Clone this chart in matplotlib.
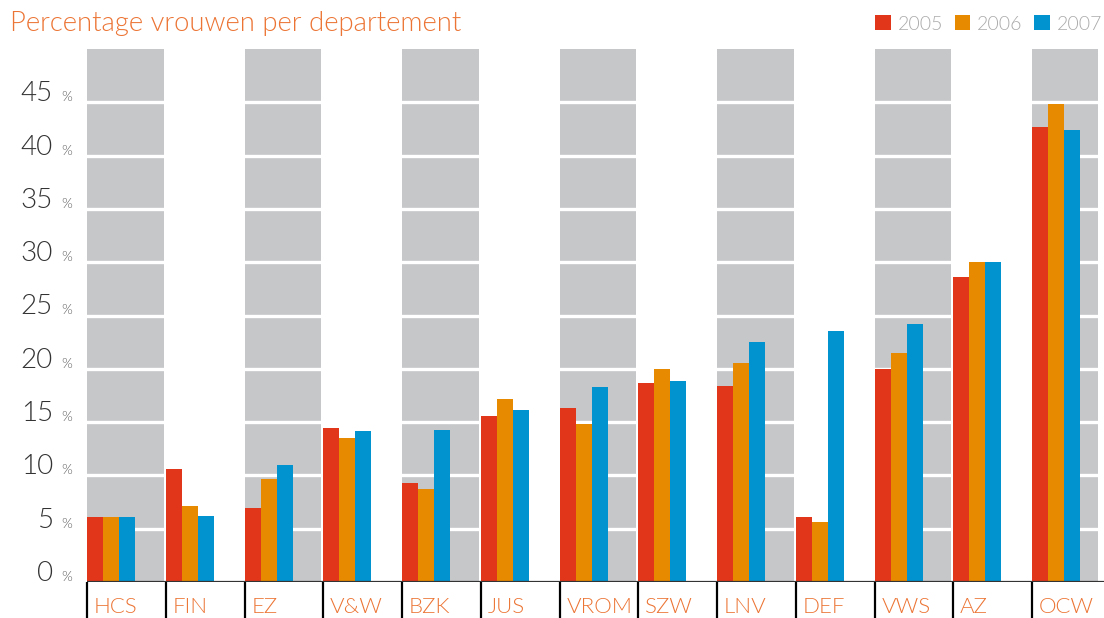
import numpy as np
import matplotlib
matplotlib.use('Agg')
from matplotlib import pyplot as plt

plt.rcParams['font.family'] = ['Lato', 'DejaVu Sans']

departments = ['HCS', 'FIN', 'EZ', 'V&W', 'BZK', 'JUS', 'VROM',
               'SZW', 'LNV', 'DEF', 'VWS', 'AZ', 'OCW']
years = ['2005', '2006', '2007']
pct_2005 = [6.1, 10.6, 6.9, 14.4, 9.3, 15.6, 16.3, 18.7, 18.4, 6.1, 20.0, 28.6, 42.7]
pct_2006 = [6.1, 7.1, 9.7, 13.5, 8.7, 17.2, 14.8, 20.0, 20.5, 5.6, 21.5, 30.0, 44.8]
pct_2007 = [6.1, 6.2, 11.0, 14.2, 14.3, 16.1, 18.3, 18.9, 22.5, 23.5, 24.2, 30.0, 42.4]
y_ticks = [0, 5, 10, 15, 20, 25, 30, 35, 40, 45]

colors = ['#e2361a', '#e88a00', '#0093cf']
orange_text = '#ec7434'
panel_gray = '#c6c7c9'
fw = 300

n = len(departments)
slot_px = 78.75

fig = plt.figure(figsize=(11.04, 6.18), dpi=100)
# the plot area runs a little past the right edge of the picture
ax = fig.add_axes([87 / 1104, 1 - 582 / 618, n * slot_px / 1104, (582 - 49) / 618])
ax.set_xlim(0, n)
ax.set_ylim(0, 50)

x_edge = (1098 - 87) / slot_px

# alternating grey panels with white grid lines
for i in range(0, n, 2):
    ax.axvspan(i, min(i + 0.975, x_edge), color=panel_gray, lw=0, zorder=0)
for t in y_ticks[1:]:
    ax.axhline(t, color='white', lw=2.4, zorder=1)

width = 0.204
x = np.arange(n)
series = [pct_2005, pct_2006, pct_2007]
bars = []
for k, (vals, c) in enumerate(zip(series, colors)):
    b = ax.bar(x + k * width, vals, width, align='edge', color=c, lw=0,
               zorder=2, label=years[k])
    bars.append(b)

ax.axhline(0, color='#333333', lw=1.6, zorder=3)

for s in ax.spines.values():
    s.set_visible(False)

ax.set_yticks([])
ax.set_xticks(x)
ax.set_xticklabels([])
ax.tick_params(axis='x', length=26, width=1.6, color='black', direction='out')

for i, d in enumerate(departments):
    ax.annotate(d, xy=(i, 0), xytext=(5, -18), textcoords='offset points',
                ha='left', va='center', fontsize=16, color=orange_text,
                fontweight=fw, annotation_clip=False)

ytrans = ax.get_yaxis_transform()
for t in y_ticks:
    ax.annotate(str(t), xy=(0, t), xycoords=ytrans, xytext=(-34, 1),
                textcoords='offset pixels', ha='right', va='baseline',
                fontsize=20, color='#333333', fontweight=fw,
                annotation_clip=False)
    ax.annotate('%', xy=(0, t), xycoords=ytrans, xytext=(-26, 1),
                textcoords='offset pixels', ha='left', va='baseline',
                fontsize=10, color='#555555', fontweight=fw,
                annotation_clip=False)

fig.text(10 / 1104, 1 - 23 / 618, 'Percentage vrouwen per departement',
         ha='left', va='center', fontsize=19.8, color=orange_text,
         fontweight=fw)

fig.legend(handles=bars, labels=years, loc='center right',
           bbox_to_anchor=(1102 / 1104, 1 - 24 / 618), ncol=3, frameon=False,
           prop={'size': 14, 'weight': fw}, labelcolor='#aaaaaa',
           handlelength=0.8, handleheight=0.8, handletextpad=0.35,
           columnspacing=0.6, borderpad=0, borderaxespad=0)

fig.savefig('out.png', dpi=100)
